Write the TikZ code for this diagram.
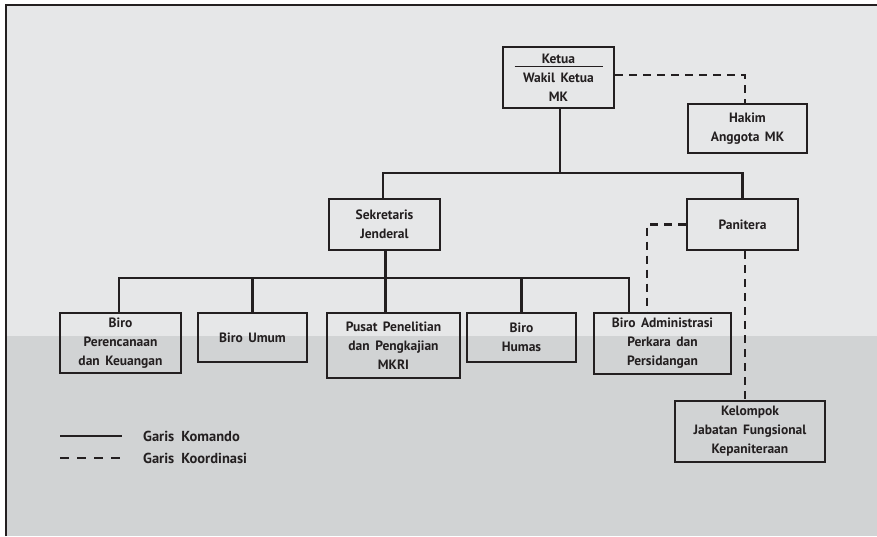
\documentclass[tikz,border=0pt]{standalone}
\usepackage{fontspec}
\setmainfont{PT Sans}
\usetikzlibrary{calc}
\definecolor{ink}{HTML}{231F20}
\definecolor{bgtop}{HTML}{E6E7E8}
\definecolor{bgbot}{HTML}{D1D3D4}
\newcommand{\wsp}{\spaceskip=5.5pt plus 1pt minus 1pt\relax}
\newcommand{\wspl}{\spaceskip=7pt plus 1pt minus 1pt\relax}
\tikzset{
  box/.style={draw=ink, line width=2.2pt, rectangle, align=center, inner sep=0pt,
    font=\bfseries\fontsize{13.5}{19}\selectfont\wsp, text=ink},
  cmd/.style={draw=ink, line width=2.2pt},
  coord/.style={draw=ink, line width=2.2pt, dash pattern=on 8pt off 6pt},
  legtext/.style={anchor=west, font=\bfseries\fontsize{14.5}{16}\selectfont\wspl, text=ink, inner sep=0pt}
}
\begin{document}
\begin{tikzpicture}[x=1pt,y=-1pt]
\useasboundingbox (0,0) rectangle (877,536);
% background
\fill[bgtop] (6,5) rectangle (877,336);
\fill[bgbot] (6,336) rectangle (877,536);
\draw[ink, line width=2.6pt] (6,536) -- (6,5) -- (877,5);
% boxes
\node[box, minimum width=111pt, minimum height=61pt] (ketua) at (558.5,77.5) {Ketua\\Wakil Ketua\\MK};
\draw[ink, line width=1pt] ($(ketua.north)+(-44,21)$) -- ($(ketua.north)+(44,21)$);
\node[box, minimum width=119pt, minimum height=49pt] (hakim) at (747.5,128.5) {Hakim\\Anggota MK};
\node[box, minimum width=111pt, minimum height=51pt] (sek) at (384.5,224.5) {Sekretaris\\Jenderal};
\node[box, minimum width=111pt, minimum height=51pt] (pan) at (742.5,224.5) {Panitera};
\node[box, minimum width=121pt, minimum height=60pt] (b1) at (120.5,343) {Biro\\Perencanaan\\dan Keuangan};
\node[box, minimum width=109pt, minimum height=49pt] (b2) at (252.5,337.5) {Biro Umum};
\node[box, minimum width=133pt, minimum height=65pt] (b3) at (393.5,345.5) {Pusat Penelitian\\dan Pengkajian\\MKRI};
\node[box, minimum width=109pt, minimum height=49pt] (b4) at (521.5,337.5) {Biro\\Humas};
\node[box, minimum width=137pt, minimum height=61pt] (b5) at (662.5,343.5) {Biro Administrasi\\Perkara dan\\Persidangan};
\node[box, minimum width=150pt, minimum height=61pt] (kel) at (750,431.5) {Kelompok\\Jabatan Fungsional\\Kepaniteraan};
% command lines
\coordinate (bus1) at (0,173);
\coordinate (bus2) at (0,278);
\draw[cmd] ($(ketua.south)+(1.5,0)$) -- ($(ketua.south|-bus1)+(1.5,0)$);
\draw[cmd] ($(sek.north)+(-1.5,0)$) -- ($(sek.north|-bus1)+(-1.5,0)$) -- (pan.north|-bus1) -- (pan.north);
\draw[cmd] ($(sek.south)+(1,0)$) -- ($(sek.south|-b3.north)+(1,0)$);
\draw[cmd] ($(b1.north)+(-1.5,0)$) -- ($(b1.north|-bus2)+(-1.5,0)$) -- ($(b5.north west|-bus2)+(36,0)$) -- ($(b5.north west)+(36,0)$);
\draw[cmd] (b2.north) -- (b2.north|-bus2);
\draw[cmd] (b4.north) -- (b4.north|-bus2);
% coordination lines
\draw[coord] ($(ketua.east)+(0,-2.5)$) -| ($(hakim.north)+(-2.5,0)$);
\draw[coord] (pan.west) -| ($(b5.north west)+(54,0)$);
\draw[coord] ($(pan.south)+(2.5,0)$) -- ($(pan.south|-kel.north)+(2.5,0)$);
% legend
\coordinate (l1a) at (60,436);
\coordinate (l1b) at (122,436);
\coordinate (l2a) at (60,458);
\coordinate (l2b) at (122,458);
\draw[ink, line width=1.8pt] (l1a) -- (l1b);
\draw[ink, line width=1.8pt, dash pattern=on 9pt off 8pt] (l2a) -- (l2b);
\node[legtext] (lt1) at (143,436) {Garis Komando};
\node[legtext] (lt2) at (143,458) {Garis Koordinasi};
\end{tikzpicture}
\end{document}
